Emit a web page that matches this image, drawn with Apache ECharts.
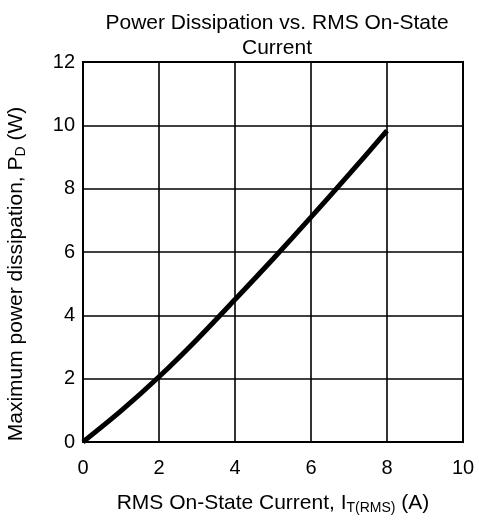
<!DOCTYPE html>
<html>
<head>
<meta charset="utf-8">
<script src="https://cdn.jsdelivr.net/npm/echarts@6/dist/echarts.min.js"></script>
<style>html,body{margin:0;padding:0;background:#fff}#c{width:479px;height:523px}</style>
</head>
<body>
<div id="c"></div>
<script>
var currentA = [0, 1, 2, 3, 4, 5, 6, 7, 8];
var powerW = [0, 0.98, 2.06, 3.24, 4.5, 5.78, 7.1, 8.45, 9.83];
var xTicks = [0, 2, 4, 6, 8, 10];
var yTicks = [0, 2, 4, 6, 8, 10, 12];

var data = currentA.map(function (x, i) { return [x, powerW[i]]; });
var font = 'Liberation Sans, Arial, sans-serif';

var chart = echarts.init(document.getElementById('c'));
chart.setOption({
  animation: false,
  backgroundColor: '#fff',
  title: {
    text: 'Power Dissipation vs. RMS On-State\nCurrent',
    left: 272, top: 6, textAlign: 'center',
    textStyle: { fontFamily: font, fontSize: 21, fontWeight: 'normal', color: '#000', lineHeight: 25 }
  },
  grid: { left: 83, right: 16, top: 62, bottom: 81, show: true, borderColor: '#000', borderWidth: 2, backgroundColor: 'transparent', containLabel: false, outerBoundsMode: 'none' },
  xAxis: {
    type: 'value', min: 0, max: 10, interval: 2,
    axisLine: { show: false }, axisTick: { show: false },
    splitLine: { show: true, lineStyle: { color: '#000', width: 1.6 } },
    axisLabel: { fontFamily: font, fontSize: 20, color: '#000', margin: 16 },
    name: '{a|RMS On-State Current, I}{s|T(RMS)}{a| (A)}',
    nameLocation: 'middle', nameGap: 50,
    nameTextStyle: {
      rich: {
        a: { fontFamily: font, fontSize: 21, color: '#000' },
        s: { fontFamily: font, fontSize: 14, color: '#000', verticalAlign: 'bottom', padding: [9, 0, 0, 0] }
      }
    }
  },
  yAxis: {
    type: 'value', min: 0, max: 12, interval: 2,
    axisLine: { show: false }, axisTick: { show: false },
    splitLine: { show: true, lineStyle: { color: '#000', width: 1.6 } },
    axisLabel: { fontFamily: font, fontSize: 20, color: '#000', margin: 8 },
    name: '{a|Maximum power dissipation, P}{s|D}{a| (W)}',
    nameLocation: 'middle', nameGap: 55, nameRotate: 90,
    nameTextStyle: {
      padding: [0, 44, 0, 0],
      rich: {
        a: { fontFamily: font, fontSize: 21, color: '#000' },
        s: { fontFamily: font, fontSize: 14, color: '#000', verticalAlign: 'bottom', padding: [9, 0, 0, 0] }
      }
    }
  },
  series: [{
    type: 'line', data: data, smooth: 0.3, showSymbol: false, symbol: 'none',
    lineStyle: { color: '#000', width: 5 }
  }]
});
</script>
</body>
</html>
